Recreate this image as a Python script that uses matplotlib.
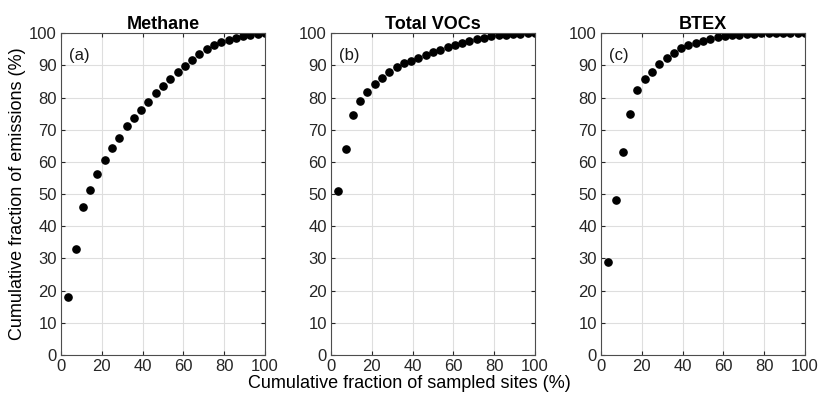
import numpy as np
import matplotlib
matplotlib.use("Agg")
import matplotlib.pyplot as plt

plt.rcParams["font.family"] = ["Liberation Sans", "DejaVu Sans"]

# cumulative fraction of sampled sites (28 sites)
N_SITES = 28
sites = np.arange(1, N_SITES + 1) * 100.0 / N_SITES

methane = [18.0, 32.9, 46.1, 51.3, 56.3, 60.7, 64.3, 67.6, 71.1, 73.8,
           76.2, 78.8, 81.3, 83.5, 85.8, 87.9, 89.8, 91.7, 93.6, 95.0,
           96.3, 97.3, 98.0, 98.5, 99.1, 99.5, 99.8, 100.0]
vocs = [51.1, 63.9, 74.7, 79.0, 81.9, 84.1, 86.2, 88.1, 89.6, 90.8,
        91.5, 92.2, 93.3, 94.1, 94.8, 95.6, 96.3, 96.9, 97.5, 98.1,
        98.5, 99.1, 99.4, 99.6, 99.8, 99.9, 100.0, 100.0]
btex = [28.9, 48.1, 63.0, 75.0, 82.3, 85.7, 88.1, 90.4, 92.3, 93.9,
        95.3, 96.4, 97.1, 97.7, 98.2, 98.8, 99.1, 99.4, 99.6, 99.8,
        99.9, 100.0, 100.0, 100.0, 100.0, 100.0, 100.0, 100.0]

titles = ["Methane", "Total VOCs", "BTEX"]
tags = ["(a)", "(b)", "(c)"]
series = [methane, vocs, btex]

W, H = 818, 399
fig = plt.figure(figsize=(W/100, H/100), dpi=100)
lefts = [61, 331, 601]
for i, (lx, ys) in enumerate(zip(lefts, series)):
    ax = fig.add_axes([lx/W, 1 - 355/H, 204/W, (355 - 33.3)/H])
    ax.plot(sites, ys, "o", color="k", ms=5.2, mec="k")
    ax.set_xlim(0, 100); ax.set_ylim(0, 100)
    ax.set_xticks(np.arange(0, 101, 20)); ax.set_yticks(np.arange(0, 101, 10))
    ax.grid(True, color="0.87", lw=0.8)
    ax.set_axisbelow(True)
    ax.tick_params(direction="in", labelsize=12, colors="0.15", length=3,
                   top=True, right=True, pad=3)
    ax.tick_params(labelcolor="0.15")
    for s in ax.spines.values():
        s.set_color("0.3"); s.set_linewidth(0.8)
    ax.set_title(titles[i], fontsize=13, fontweight="bold", pad=3)
    ax.text(0.04, 0.955, tags[i], transform=ax.transAxes, fontsize=12,
            va="top", ha="left", color="0.1")
    if i == 0:
        ax.set_ylabel("Cumulative fraction of emissions (%)", fontsize=13,
                      labelpad=2)

fig.text(0.5, 1 - 383/H, "Cumulative fraction of sampled sites (%)",
         ha="center", va="center", fontsize=13)
fig.savefig("out.png", dpi=100)
